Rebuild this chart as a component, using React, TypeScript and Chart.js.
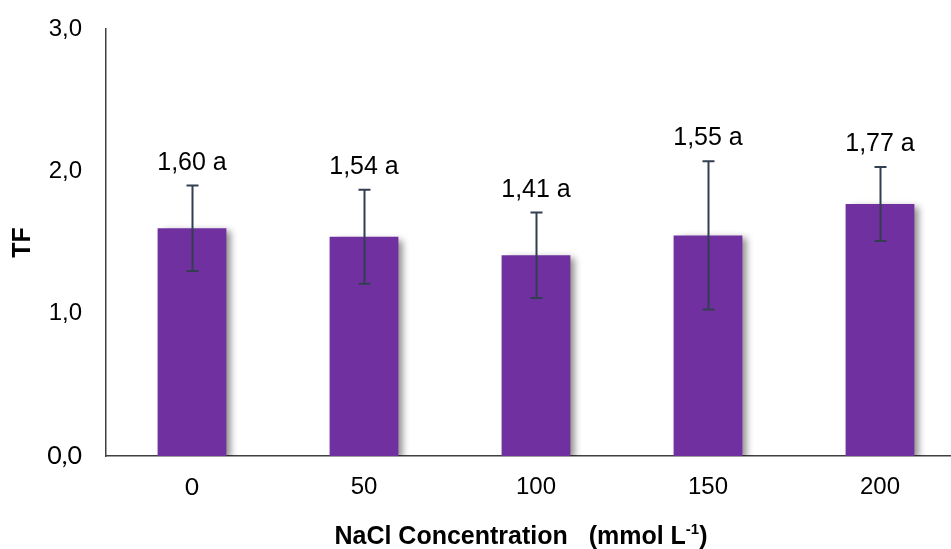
import React, { useEffect, useRef } from "react";
import { Chart, registerables } from "chart.js";

Chart.register(...registerables);

const categories = ["0", "50", "100", "150", "200"];
const tfValues = [1.6, 1.54, 1.41, 1.55, 1.77];
const tfErrors = [0.3, 0.33, 0.3, 0.52, 0.26];
const letters = ["a", "a", "a", "a", "a"];
const yMin = 0;
const yMax = 3;
const yStep = 1;
const xTitleMain = "NaCl Concentration   (mmol L";
const xTitleSup = "-1";
const xTitleEnd = ")";
const yTitle = "TF";

const fmt = (v: number, d: number) => v.toFixed(d).replace(".", ",");

const shadowPlugin = {
  id: "barShadow",
  beforeDatasetDraw(chart: any) {
    const ctx = chart.ctx;
    ctx.save();
    ctx.shadowColor = "rgba(0,0,0,0.45)";
    ctx.shadowBlur = 7;
    ctx.shadowOffsetX = 5;
    ctx.shadowOffsetY = 3;
  },
  afterDatasetDraw(chart: any) {
    chart.ctx.restore();
  },
};

const overlayPlugin = {
  id: "overlay",
  afterDatasetsDraw(chart: any) {
    const ctx = chart.ctx;
    const meta = chart.getDatasetMeta(0);
    const y = chart.scales.y;
    ctx.save();
    ctx.strokeStyle = "#333F50";
    ctx.lineWidth = 2;
    meta.data.forEach((bar: any, i: number) => {
      const x = Math.round(bar.x) + 0.5;
      const top = y.getPixelForValue(tfValues[i] + tfErrors[i]);
      const bot = y.getPixelForValue(tfValues[i] - tfErrors[i]);
      ctx.beginPath();
      ctx.moveTo(x, top);
      ctx.lineTo(x, bot);
      ctx.moveTo(x - 6, top);
      ctx.lineTo(x + 6, top);
      ctx.moveTo(x - 6, bot);
      ctx.lineTo(x + 6, bot);
      ctx.stroke();
      ctx.fillStyle = "#000";
      ctx.font = "25px 'Liberation Sans', Arial, sans-serif";
      ctx.textAlign = "center";
      ctx.textBaseline = "alphabetic";
      ctx.fillText(`${fmt(tfValues[i], 2)} ${letters[i]}`, bar.x, top - 16);
    });
    ctx.restore();
  },
  afterDraw(chart: any) {
    const ctx = chart.ctx;
    const area = chart.chartArea;
    ctx.save();
    ctx.fillStyle = "#000";
    ctx.font = "bold 25px 'Liberation Sans', Arial, sans-serif";
    ctx.translate(23, (area.top + area.bottom) / 2);
    ctx.rotate(-Math.PI / 2);
    ctx.textAlign = "center";
    ctx.textBaseline = "middle";
    ctx.fillText(yTitle, 0, 0);
    ctx.restore();

    ctx.save();
    ctx.fillStyle = "#000";
    const mainFont = "bold 25px 'Liberation Sans', Arial, sans-serif";
    const supFont = "bold 15px 'Liberation Sans', Arial, sans-serif";
    ctx.font = mainFont;
    const w1 = ctx.measureText(xTitleMain).width;
    const w3 = ctx.measureText(xTitleEnd).width;
    ctx.font = supFont;
    const w2 = ctx.measureText(xTitleSup).width;
    const total = w1 + w2 + w3;
    let x = 521 - total / 2;
    const base = 544;
    ctx.textAlign = "left";
    ctx.textBaseline = "alphabetic";
    ctx.font = mainFont;
    ctx.fillText(xTitleMain, x, base);
    x += w1;
    ctx.font = supFont;
    ctx.fillText(xTitleSup, x, base - 10);
    x += w2;
    ctx.font = mainFont;
    ctx.fillText(xTitleEnd, x, base);
    ctx.restore();
  },
};

export default function App() {
  const ref = useRef<HTMLCanvasElement>(null);
  useEffect(() => {
    if (!ref.current) return;
    const chart = new Chart(ref.current, {
      type: "bar",
      data: {
        labels: categories,
        datasets: [
          {
            data: tfValues,
            backgroundColor: "#7030A0",
            borderWidth: 0,
            categoryPercentage: 1,
            barPercentage: 0.4,
          },
        ],
      },
      options: {
        animation: false,
        responsive: false,
        maintainAspectRatio: false,
        layout: { padding: { left: 0, right: 9, top: 29, bottom: 0 } },
        plugins: {
          legend: { display: false },
          tooltip: { enabled: false },
        },
        scales: {
          x: {
            grid: { display: false, drawTicks: false },
            border: { display: true, color: "#404040", width: 1.5 },
            ticks: {
              color: "#000",
              padding: 17,
              font: (c: any) => ({
                family: c.index === 0 ? "Lato, sans-serif" : "'Liberation Sans', Arial, sans-serif",
                size: 24,
              }),
            },
            afterFit: (s: any) => {
              s.height = 93;
            },
          },
          y: {
            min: yMin,
            max: yMax,
            grid: { display: false, drawTicks: false },
            border: { display: true, color: "#404040", width: 1.5 },
            ticks: {
              stepSize: yStep,
              color: "#000",
              padding: 24,
              callback: (v: any) => fmt(Number(v), 1),
              font: (c: any) => ({
                family: c.index === 0 ? "Lato, sans-serif" : "'Liberation Sans', Arial, sans-serif",
                size: c.index === 0 ? 25 : 24,
              }),
            },
            afterFit: (s: any) => {
              s.width = 106;
              s.paddingTop = 10;
              s.paddingBottom = 10;
            },
          },
        },
      },
      plugins: [shadowPlugin, overlayPlugin],
    });
    return () => chart.destroy();
  }, []);
  return (
    <div style={{ position: "fixed", left: 0, top: 0, width: 951, height: 549, overflow: "hidden", background: "#fff" }}>
      <canvas ref={ref} width={975} height={549} style={{ display: "block", width: 975, height: 549 }} />
    </div>
  );
}
